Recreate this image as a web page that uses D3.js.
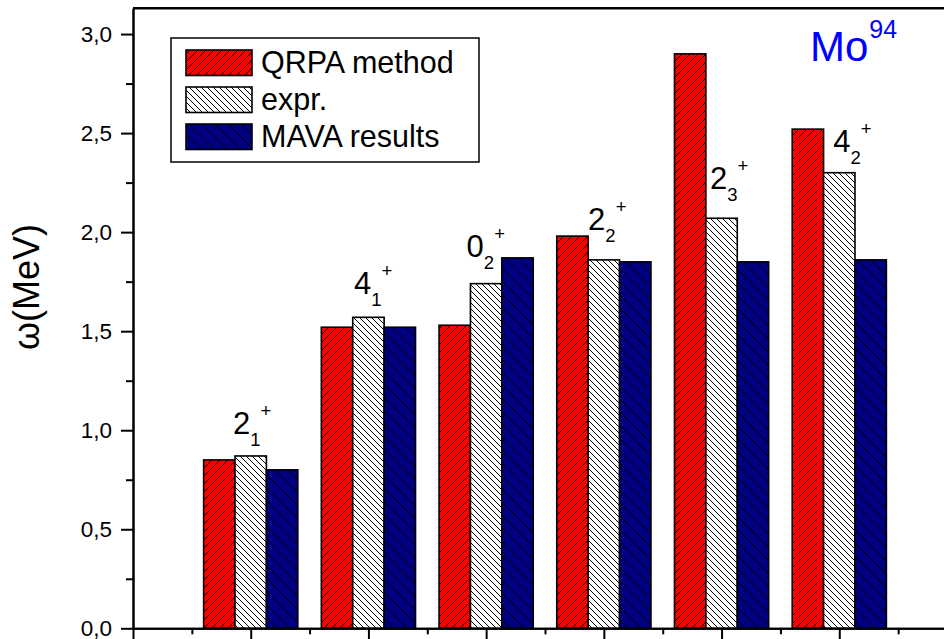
<!DOCTYPE html>
<html>
<head>
<meta charset="utf-8">
<script src="https://cdn.jsdelivr.net/npm/d3@7"></script>
<style>
  body { margin: 0; background: #fff; }
  svg { display: block; font-family: "Liberation Sans", Arial, sans-serif; }
</style>
</head>
<body>
<div id="chart"></div>
<script>
// levels (group positions on x axis)
const groups = [1, 2, 3, 4, 5, 6];
const qrpa = [0.85, 1.52, 1.53, 1.98, 2.90, 2.52];
const expr = [0.87, 1.57, 1.74, 1.86, 2.07, 2.30];
const mava = [0.80, 1.52, 1.87, 1.85, 1.85, 1.86];
const seriesNames = ["QRPA method", "expr.", "MAVA results"];

// state labels J_n^+ and where they sit (data units)
const labelMain = ["2", "4", "0", "2", "2", "4"];
const labelSub = ["1", "1", "2", "2", "3", "2"];
const labelX = [0.850, 1.878, 2.834, 3.866, 4.902, 5.948];
const labelY = [0.981, 1.688, 1.875, 2.012, 2.219, 2.405];

const yMajor = [0, 0.5, 1.0, 1.5, 2.0, 2.5, 3.0];
const yMinor = [0.25, 0.75, 1.25, 1.75, 2.25, 2.75];
const xMajor = [0, 1, 2, 3, 4, 5, 6, 7];
const xMinor = [0.5, 1.5, 2.5, 3.5, 4.5, 5.5, 6.5];

const width = 944, height = 639;
const svg = d3.select("#chart").append("svg")
  .attr("width", width)
  .attr("height", height);

const x = d3.scaleLinear().domain([0, 7]).range([133, 957]);
const y = d3.scaleLinear().domain([0, 3.13]).range([628.3, 8.3]);

// hatch patterns
const defs = svg.append("defs");
function hatch(id, fill, s, forward) {
  const p = defs.append("pattern")
    .attr("id", id)
    .attr("patternUnits", "userSpaceOnUse")
    .attr("width", s).attr("height", s);
  p.append("rect").attr("width", s).attr("height", s).attr("fill", fill);
  const d = forward
    ? `M0,${s} L${s},0 M${-s / 2},${s / 2} L${s / 2},${-s / 2} M${s / 2},${s * 1.5} L${s * 1.5},${s / 2}`
    : `M0,0 L${s},${s} M${-s / 2},${s / 2} L${s / 2},${s * 1.5} M${s / 2},${-s / 2} L${s * 1.5},${s / 2}`;
  p.append("path").attr("d", d).attr("stroke", "#000").attr("stroke-width", 1).attr("fill", "none");
}
hatch("hRed", "#ff0000", 8, true);
hatch("hWhite", "#ffffff", 6, false);
hatch("hBlue", "#000080", 13, false);
const fills = ["url(#hRed)", "url(#hWhite)", "url(#hBlue)"];

// bars
const bw = 0.8 / 3;
const series = [qrpa, expr, mava];
series.forEach((vals, si) => {
  svg.append("g").selectAll("rect")
    .data(vals)
    .enter()
    .append("rect")
    .attr("x", (d, i) => x(groups[i] - 0.4 + si * bw))
    .attr("y", d => y(d))
    .attr("width", x(bw) - x(0))
    .attr("height", d => y(0) - y(d))
    .attr("fill", fills[si])
    .attr("stroke", "#000")
    .attr("stroke-width", 1.6);
});

// y axis (major + minor)
const fmt = d => d3.format(".1f")(d).replace(".", ",");
const yAxis = svg.append("g")
  .attr("transform", `translate(${x(0)},0)`)
  .call(d3.axisLeft(y).tickValues(yMajor).tickFormat(fmt).tickSize(12).tickSizeOuter(0).tickPadding(9));
svg.append("g")
  .attr("transform", `translate(${x(0)},0)`)
  .call(d3.axisLeft(y).tickValues(yMinor).tickFormat("").tickSize(7).tickSizeOuter(0));

// x axis (no labels)
svg.append("g")
  .attr("transform", `translate(0,${y(0)})`)
  .call(d3.axisBottom(x).tickValues(xMajor).tickFormat("").tickSize(12).tickSizeOuter(0));
svg.append("g")
  .attr("transform", `translate(0,${y(0)})`)
  .call(d3.axisBottom(x).tickValues(xMinor).tickFormat("").tickSize(6).tickSizeOuter(0));

svg.selectAll(".domain, .tick line")
  .attr("stroke", "#000")
  .attr("stroke-width", 2);
yAxis.selectAll("text")
  .attr("font-size", 22.5)
  .attr("fill", "#000")
  .attr("dy", "0.34em")
  .attr("font-family", "Liberation Sans, Arial, sans-serif");

// top frame
svg.append("line")
  .attr("x1", x(0)).attr("x2", x(7))
  .attr("y1", y(3.13)).attr("y2", y(3.13))
  .attr("stroke", "#000").attr("stroke-width", 2.5);

// y title
svg.append("text")
  .attr("transform", "translate(39,287) rotate(-90)")
  .attr("text-anchor", "middle")
  .attr("font-size", 36)
  .text("ω(MeV)");

// state labels
const lab = svg.append("g").selectAll("text")
  .data(labelMain)
  .enter()
  .append("text")
  .attr("x", (d, i) => x(labelX[i]))
  .attr("y", (d, i) => y(labelY[i]))
  .attr("font-size", 31);
lab.append("tspan").text(d => d);
lab.append("tspan").attr("font-size", 18.5).attr("dy", 12).text((d, i) => labelSub[i]);
lab.append("tspan").attr("font-size", 18.5).attr("dy", -28.6).text("+");

// Mo^94
const mo = svg.append("text")
  .attr("x", 810).attr("y", 61)
  .attr("fill", "#0000ff")
  .attr("font-size", 42);
mo.append("tspan").text("Mo");
mo.append("tspan").attr("font-size", 25).attr("dy", -23).attr("dx", 1).text("94");

// legend
const lg = svg.append("g");
lg.append("rect")
  .attr("x", 171).attr("y", 38)
  .attr("width", 308).attr("height", 124)
  .attr("fill", "#fff").attr("stroke", "#000").attr("stroke-width", 1.5);
seriesNames.forEach((name, i) => {
  lg.append("rect")
    .attr("x", 186).attr("y", 50 + i * 37)
    .attr("width", 66).attr("height", 25.5)
    .attr("fill", fills[i])
    .attr("stroke", "#000").attr("stroke-width", 1.6);
  lg.append("text")
    .attr("x", 261).attr("y", 73 + i * 37)
    .attr("font-size", 30.5)
    .text(name);
});
</script>
</body>
</html>
